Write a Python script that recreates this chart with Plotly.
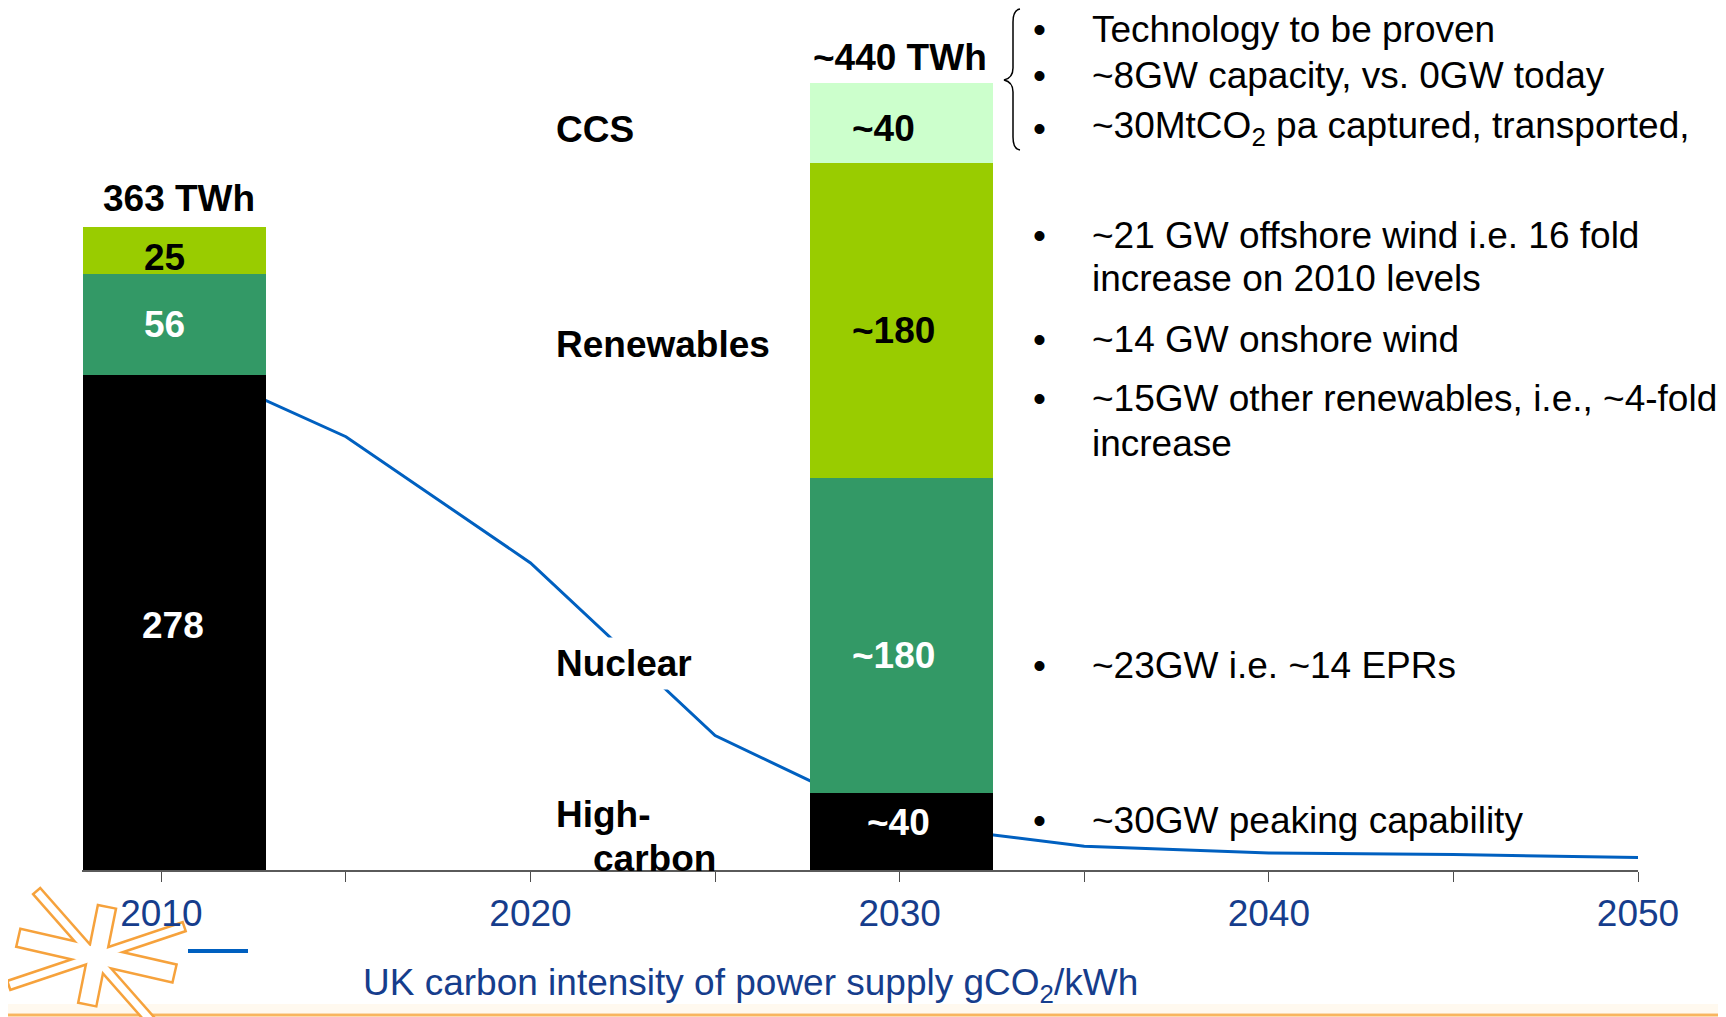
import math
import plotly.graph_objects as go

# generation mix, TWh (bar centres sit slightly right of the year ticks)
bar_years = [2010.35, 2030.05]
high_carbon = [278, 43]
nuclear = [57, 177]
renewables = [26, 177]
ccs = [0, 45]

high_carbon_text = ["278", "~40"]
nuclear_text = ["56", "~180"]
renewables_text = ["25", "~180"]
ccs_text = ["", "~40"]
total_text = ["363 TWh", "~440 TWh"]

# UK carbon intensity of power supply, gCO2/kWh
ci_years = [2010, 2015, 2020, 2025, 2030, 2035, 2040, 2045, 2050]
ci_values = [500, 419, 297, 130, 45, 23, 16.5, 15, 12]

tick_years = [2010, 2020, 2030, 2040, 2050]
tick_labels = ["2010", "2020", "2030", "2040", "2050"]

category_labels = ["CCS", "Renewables", "Nuclear", "High-", "carbon"]

bullet_lines = [
    "Technology to be proven",
    "~8GW capacity, vs. 0GW today",
    "~30MtCO<sub>2</sub> pa captured, transported,",
    "~21 GW offshore wind i.e. 16 fold",
    "~14 GW onshore wind",
    "~15GW other renewables, i.e., ~4-fold",
    "~23GW i.e. ~14 EPRs",
    "~30GW peaking capability",
]
wrap_lines = ["increase on 2010 levels", "increase"]

FONT = "Liberation Sans, Arial, sans-serif"
NAVY = "#163D8C"
BLUE = "#0060C0"
ORANGE = "#F6A23C"

# the page body has an 8px margin, so the figure is 8px smaller and
# helper coordinates below are page pixels
OFF = 8
W, H = 1726 - OFF, 1017 - OFF
L, R, T, B = 74, 88, 0, 147
PW, PH = W - L - R, H - T - B


def px(x):
    return (x - OFF - L) / PW


def py(y):
    return (T + PH - (y - OFF)) / PH


def path(points, close=True):
    s = "M " + " L ".join(f"{px(x):.5f},{py(y):.5f}" for x, y in points)
    return s + (" Z" if close else "")


def bar_poly(p1, p2, w):
    dx, dy = p2[0] - p1[0], p2[1] - p1[1]
    n = math.hypot(dx, dy)
    ox, oy = -dy / n * w / 2, dx / n * w / 2
    return [(p1[0] + ox, p1[1] + oy), (p2[0] + ox, p2[1] + oy),
            (p2[0] - ox, p2[1] - oy), (p1[0] - ox, p1[1] - oy)]


fig = go.Figure()

# carbon intensity line on the primary axis so the bars cover it
fig.add_trace(go.Scatter(
    x=ci_years, y=ci_values, mode="lines",
    line=dict(color=BLUE, width=3),
    yaxis="y", showlegend=False, hoverinfo="skip",
))

for name, vals, color in [
    ("High-carbon", high_carbon, "#000000"),
    ("Nuclear", nuclear, "#339966"),
    ("Renewables", renewables, "#99CC00"),
    ("CCS", ccs, "#CCFFCC"),
]:
    fig.add_trace(go.Bar(
        x=bar_years, y=vals, name=name, width=4.97,
        marker=dict(color=color, line=dict(width=0)),
        yaxis="y2", showlegend=False,
    ))

annotations = []

# segment labels inside the bars
segments = [high_carbon, nuclear, renewables, ccs]
seg_text = [high_carbon_text, nuclear_text, renewables_text, ccs_text]
seg_color = [["white", "white"], ["white", "white"], ["black", "black"], ["black", "black"]]
seg_shift = [[(-1, -3), (-3, 9)], [(-10, 0), (-8, -20)],
             [(-10, -7), (-8, -10)], [(0, 0), (-18, -5)]]
for i, bx in enumerate(bar_years):
    base = 0
    for k, seg in enumerate(segments):
        v = seg[i]
        if v and seg_text[k][i]:
            annotations.append(dict(
                x=bx, y=base + v / 2, xref="x", yref="y2",
                xanchor="center", yanchor="middle",
                text=f"<b>{seg_text[k][i]}</b>", showarrow=False,
                font=dict(size=37, color=seg_color[k][i], family=FONT),
                xshift=seg_shift[k][i][0], yshift=seg_shift[k][i][1],
            ))
        base += v
    annotations.append(dict(
        x=bx, y=base, xref="x", yref="y2", text=f"<b>{total_text[i]}</b>",
        showarrow=False, font=dict(size=37, color="black", family=FONT),
        xanchor="center", yanchor="middle", xshift=[5, -2][i], yshift=[29, 26][i],
    ))

# category names between the bars
cat_pos = [(550, 129), (550, 345), (550, 663), (550, 814), (587, 858)]
for label, (cx, cy) in zip(category_labels, cat_pos):
    annotations.append(dict(
        x=px(cx), y=py(cy), xref="paper", yref="paper", xanchor="left",
        yanchor="middle", text=f"<b>{label}</b>", showarrow=False,
        font=dict(size=37, color="black", family=FONT),
        bgcolor="white" if label == "Nuclear" else None, borderpad=5,
    ))

# bullet notes on the right
bullet_y = [29, 75, 128, 235, 339, 399, 665, 820]
for line, by in zip(bullet_lines, bullet_y):
    annotations.append(dict(
        x=px(1039), y=py(by), xref="paper", yref="paper", text="•",
        xanchor="center", yanchor="middle",
        showarrow=False, font=dict(size=37, color="black", family=FONT),
    ))
    annotations.append(dict(
        x=px(1090), y=py(by), xref="paper", yref="paper", xanchor="left",
        yanchor="middle", text=line, showarrow=False,
        font=dict(size=37, color="black", family=FONT),
    ))
for line, wy in zip(wrap_lines, [278, 443]):
    annotations.append(dict(
        x=px(1090), y=py(wy), xref="paper", yref="paper", xanchor="left",
        yanchor="middle", text=line, showarrow=False,
        font=dict(size=37, color="black", family=FONT),
    ))

# legend text
annotations.append(dict(
    x=px(750), y=py(985), xref="paper", yref="paper",
    xanchor="center", yanchor="middle",
    text="UK carbon intensity of power supply gCO<sub>2</sub>/kWh",
    showarrow=False, font=dict(size=37, color=NAVY, family=FONT),
))

shapes = []

# brace next to the CCS notes
brace = (f"M {px(1020):.5f},{py(9):.5f} Q {px(1013):.5f},{py(10):.5f} {px(1013):.5f},{py(22):.5f} "
         f"L {px(1013):.5f},{py(68):.5f} Q {px(1013):.5f},{py(78):.5f} {px(1004):.5f},{py(80):.5f} "
         f"Q {px(1013):.5f},{py(82):.5f} {px(1013):.5f},{py(92):.5f} "
         f"L {px(1013):.5f},{py(137):.5f} Q {px(1013):.5f},{py(149):.5f} {px(1020):.5f},{py(150):.5f}")
shapes.append(dict(type="path", xref="paper", yref="paper", path=brace,
                   line=dict(color="black", width=1.5)))

# legend swatch
shapes.append(dict(type="line", xref="paper", yref="paper",
                   x0=px(188), x1=px(248), y0=py(951), y1=py(951),
                   line=dict(color=BLUE, width=4)))

# bottom band
shapes.append(dict(type="rect", xref="paper", yref="paper", layer="below",
                   x0=px(0), x1=px(1726), y0=py(1013), y1=py(1004),
                   fillcolor="#FFF9EF", line=dict(width=0)))
shapes.append(dict(type="line", xref="paper", yref="paper", layer="below",
                   x0=px(0), x1=px(1726), y0=py(1015), y1=py(1015),
                   line=dict(color="#F8B55F", width=3)))

# star logo, outline then fill to merge the rays
rays = [
    bar_poly((37.5, 892), (152, 1022), 7),
    bar_poly((106.7, 908), (87.5, 1003.3), 16),
    bar_poly((19.5, 938), (173.3, 973.3), 16),
    bar_poly((10, 985), (183, 927), 7),
]
for ray in rays:
    shapes.append(dict(type="path", xref="paper", yref="paper", layer="below",
                       path=path(ray), fillcolor="white",
                       line=dict(color=ORANGE, width=5)))
for ray in rays:
    shapes.append(dict(type="path", xref="paper", yref="paper", layer="below",
                       path=path(ray), fillcolor="white",
                       line=dict(width=0)))

fig.update_layout(
    width=W, height=H,
    margin=dict(l=L, r=R, t=T, b=B, pad=0),
    paper_bgcolor="white", plot_bgcolor="rgba(0,0,0,0)",
    barmode="stack", bargap=0,
    font=dict(family=FONT),
    xaxis=dict(
        range=[2007.85, 2050], tickvals=tick_years, ticktext=tick_labels,
        ticks="outside", ticklen=10, tickwidth=1.2, tickcolor="#4d4d4d",
        minor=dict(tick0=2010, dtick=5, ticks="outside", ticklen=10,
                   tickwidth=1.2, tickcolor="#4d4d4d", showgrid=False),
        showline=True, linecolor="#5a5a5a", linewidth=1.5,
        showgrid=False, zeroline=False,
        tickfont=dict(size=37, color=NAVY, family=FONT),
    ),
    yaxis=dict(range=[0, 500 * PH / 517], visible=False, showgrid=False, zeroline=False),
    yaxis2=dict(range=[0, PH / 1.78], overlaying="y", visible=False,
                showgrid=False, zeroline=False),
    annotations=annotations,
    shapes=shapes,
    showlegend=False,
)

fig.write_html("out.html")
